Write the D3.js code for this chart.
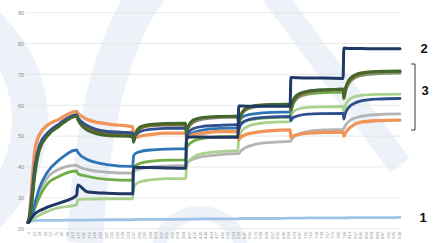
<!DOCTYPE html>
<html><head><meta charset="utf-8">
<script src="https://cdn.jsdelivr.net/npm/d3@7"></script>
<style>html,body{margin:0;padding:0;background:#fff;}svg{display:block;}</style>
</head><body>
<svg id="chart" width="438" height="243"></svg>
<script>
const idx = [1,4,10,18,30,50,80,124, 127,150,200,266, 268,272,285,310,350,400, 402,406,420,445,485,532, 534,538,552,577,617,664, 666,670,684,709,749,798, 800,804,818,843,883,942];

const lightBlue = [22,22.2,22.5,22.6,22.7,22.7,22.7,22.8, 22.8,22.8,22.9,22.9, 22.9,23,23,23,23,23.1, 23.1,23.1,23.1,23.2,23.2,23.2, 23.2,23.3,23.3,23.3,23.3,23.4, 23.4,23.4,23.4,23.5,23.5,23.5, 23.5,23.5,23.6,23.6,23.6,23.7];
const navy = [22,22.3,23.5,24.8,25.8,27,28.3,30.8, 34.2,32,31.5,31.3, 39.9,39.9,39.8,39.8,39.7,39.6, 49.7,49.7,49.7,49.7,49.6,49.6, 59.8,59.8,59.7,59.7,59.7,59.7, 69,69,68.9,68.8,68.8,68.7, 78.6,78.5,78.4,78.4,78.3,78.3];
const orange = [22,24,33,45,50.5,53.5,55.5,58, 57.5,55.5,54,53, 49.5,49.5,50,50.5,51,51, 49,49.5,50.5,51,51.5,51.5, 48.8,49.5,50.5,51.2,51.8,52, 49.5,50,50.5,51,51.2,51.3, 50,51,53,54.5,55,55.2];
const darkBlue = [22,23.5,30,40,47,51,54,57, 56,53.5,51.5,51, 48.5,50,51.5,52.2,52.5,52.6, 50,51,52.5,53.2,53.5,53.7, 52,53.5,55,55.8,56.2,56.4, 55,55.8,56.6,57.1,57.3,57.4, 55.5,57.5,60,61.4,62,62.2];
const darkGrey = [22,23.5,29,39,46.5,50.5,53.8,56.8, 56,53.3,51.5,51, 48.5,50.5,52.5,53.3,53.5,53.6, 51,52.5,54.5,55.5,56,56.2, 54,56,58.5,59.5,60,60.1, 58,60,62.5,64,64.8,65, 62,64.5,68,69.8,70.4,70.6];
const olive = [22,23,28,38,46,50.5,53.5,56.5, 55.5,52.8,50.8,50.3, 48.2,50.5,52.6,53.5,53.8,53.9, 51,52.8,55,56,56.3,56.5, 54,56.2,58.8,59.8,60.2,60.4, 58.5,60.5,63,64.3,64.9,65.2, 62.5,65,68.5,70.2,70.8,71];
const darkGreen = [22,23,27.5,37,45.5,50,53.2,56.5, 55.3,52,50.2,49.8, 48,50.5,53,53.8,54.1,54.2, 51,53,55.3,56.1,56.4,56.5, 54,56.5,59,60,60.3,60.4, 58.5,61,63.5,64.6,65,65.2, 62.5,65.5,69,70.5,71,71.1];
const midBlue = [22,22.5,24.5,28,33.3,38.3,42.3,45.5, 44.8,42.5,40.8,40.2, 43.5,44.3,45,45.5,45.8,45.9, 48.5,49.8,51.2,52,52.5,52.7, 54.5,55.5,56.7,57.3,57.7,57.8, 60,61.5,63.5,64.5,65,65.2, 63,65.5,68.5,70,70.6,70.8];
const lightGrey = [22,22.5,24.5,27.5,32,36.5,39.3,40.6, 40.3,39.2,38.3,38, 38.3,38.8,39.4,39.9,40.3,40.5, 41,41.6,42.6,43.4,44,44.3, 44.3,45,46.3,47.4,48,48.3, 48.5,49.3,50.6,51.5,52,52.2, 52.5,53.5,55.3,56.4,57,57.2];
const green = [22,22.3,24,26.5,30.3,34.5,37,38.7, 37.8,37,36,35.7, 39.5,40.3,41.2,41.8,42.2,42.3, 46,47,48.4,49.3,49.8,50, 53,54,55,55.6,56,56.1, 58,60,62.5,63.6,64.1,64.3, 62,64.5,68,69.6,70.2,70.4];
const lightGreen = [22,22.1,22.6,23.4,24.4,25.6,26.8,27.7, 29.4,29.6,29.7,29.7, 33,34.2,35.2,35.8,36.2,36.3, 40,41.5,43.2,44.4,45,45.3, 49.5,51,52.8,53.9,54.5,54.7, 56,57.5,58.8,59.3,59.5,59.6, 57.5,60,62.3,63.2,63.5,63.6];

const yTicks = [20,30,40,50,60,70,80,90];
const nPoints = 942;
const xTickStep = 14;
const groupLabels = ["1","2","3"];

const series = [
  {name:"lightBlue", values:lightBlue, color:"#9dc3e6", w:2.8},
  {name:"lightGrey", values:lightGrey, color:"#b4b4b4", w:2.8},
  {name:"lightGreen", values:lightGreen, color:"#a9d18e", w:2.8},
  {name:"green", values:green, color:"#70ad47", w:2.8},
  {name:"midBlue", values:midBlue, color:"#2e75b6", w:2.8},
  {name:"orange", values:orange, color:"#f0955a", w:3.3},
  {name:"darkGrey", values:darkGrey, color:"#8a8a8a", w:2.8},
  {name:"olive", values:olive, color:"#7f6a1a", w:2.8},
  {name:"darkBlue", values:darkBlue, color:"#2f4f8f", w:2.8},
  {name:"darkGreen", values:darkGreen, color:"#43682b", w:2.8},
  {name:"navy", values:navy, color:"#1f3864", w:3}
];

const svg = d3.select("#chart");
const mLeft = 28, mRight = 400, mTop = 12.7, mBottom = 228.7;

// watermark
const wm = svg.append("g").attr("fill","none").attr("stroke","#edf1f8");
wm.append("circle").attr("cx",-95).attr("cy",120).attr("r",125).attr("stroke-width",36);
wm.append("path").attr("d","M150,-10 Q95,60 85,243").attr("stroke-width",36);
wm.append("path").attr("d","M270,-10 L400,165").attr("stroke-width",24);
wm.append("circle").attr("cx",200).attr("cy",255).attr("r",42).attr("stroke-width",14);

const x = d3.scaleLinear().domain([1,nPoints]).range([mLeft,mRight]);
const y = d3.scaleLinear().domain([20,90]).range([mBottom,mTop]);

// grid
svg.append("g").selectAll("line").data(yTicks).join("line")
  .attr("x1",mLeft-1).attr("x2",mRight+1)
  .attr("y1",d=>y(d)).attr("y2",d=>y(d))
  .attr("stroke","#e3e3e3").attr("stroke-width",0.8);

// y axis labels
const yAxis = d3.axisLeft(y).tickValues(yTicks).tickSize(0).tickPadding(4);
const gy = svg.append("g").attr("transform",`translate(${mLeft},0)`).call(yAxis);
gy.select(".domain").remove();
gy.selectAll("text").attr("font-family","Liberation Sans, Arial, sans-serif").attr("font-size",5.5).attr("fill","#8c8c8c");

// x axis labels
const xTicks = d3.range(1,nPoints+1,xTickStep);
const xAxis = d3.axisBottom(x).tickValues(xTicks).tickSize(0).tickFormat(d3.format("d"));
const gx = svg.append("g").attr("transform",`translate(0,${mBottom+2})`).call(xAxis);
gx.select(".domain").remove();
gx.selectAll("text").attr("font-family","Liberation Sans, Arial, sans-serif").attr("font-size",4.4).attr("fill","#9a9a9a")
  .attr("text-anchor","end").attr("transform","rotate(-90)").attr("x",-1).attr("y",0).attr("dy","0.35em");

// lines
const line = d3.line().x((d,i)=>x(idx[i])).y(d=>y(d)).curve(d3.curveMonotoneX);
svg.append("g").selectAll("path").data(series).join("path")
  .attr("d",s=>line(s.values)).attr("fill","none")
  .attr("stroke",s=>s.color).attr("stroke-width",s=>s.w)
  .attr("stroke-linejoin","round").attr("stroke-linecap","round");

// group annotations
const ann = svg.append("g").attr("font-family","Liberation Sans, Arial, sans-serif").attr("font-weight","bold").attr("font-size",13).attr("fill","#111").attr("text-anchor","middle");
ann.append("text").attr("x",424).attr("y",53).text(groupLabels[1]);
ann.append("text").attr("x",425).attr("y",95).text(groupLabels[2]);
ann.append("text").attr("x",423).attr("y",222).text(groupLabels[0]);
svg.append("path").attr("d","M411,64 L415,64 L415,130 L411,130").attr("fill","none").attr("stroke","#222").attr("stroke-width",0.9);
</script>
</body></html>
